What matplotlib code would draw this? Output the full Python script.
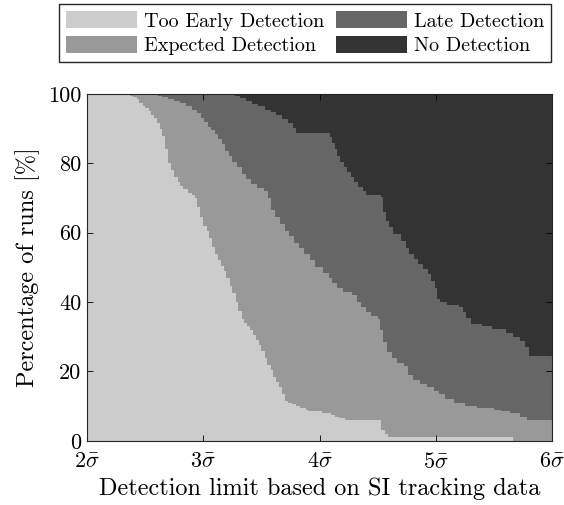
import matplotlib
matplotlib.use("Agg")
import matplotlib.pyplot as plt

# Share of runs [%] per outcome, stored as cumulative step curves:
# each value holds from its x until the next x (sigma-bar multiples).
early_x = [2.00, 2.37, 2.40, 2.43, 2.45, 2.48, 2.50, 2.53, 2.55, 2.58,
           2.60, 2.63, 2.65, 2.67, 2.70, 2.72, 2.75, 2.78, 2.80, 2.83,
           2.87, 2.90, 2.93, 2.95, 2.97, 3.00, 3.03, 3.05, 3.08, 3.10,
           3.13, 3.15, 3.18, 3.20, 3.23, 3.25, 3.28, 3.30, 3.33, 3.35,
           3.38, 3.40, 3.43, 3.45, 3.48, 3.50, 3.53, 3.55, 3.58, 3.60,
           3.63, 3.65, 3.68, 3.70, 3.73, 3.76, 3.80, 3.83, 3.88, 3.90,
           4.02, 4.10, 4.13, 4.17, 4.22, 4.53, 4.56, 4.59, 5.66, 6.00]
early_pct = [100, 99.5, 99, 98.5, 97.5, 96.5, 96, 95, 94, 93,
             91.5, 90, 88, 84, 80, 78, 76, 74.5, 73.5, 72.5,
             71.5, 71, 70, 67.5, 64.5, 62, 60.5, 58.5, 56, 54,
             52, 50.5, 49, 47, 44.5, 42.5, 40, 37.5, 35, 34,
             33, 32, 30.5, 29, 27.5, 26, 24, 22, 20.5, 18.5,
             17, 15.5, 13.5, 11.5, 11, 10.5, 10, 9.5, 9, 8.5,
             8, 7.5, 7, 6.5, 6, 3, 2, 1.2, 0, 0]

expected_x = [2.00, 2.61, 2.65, 2.70, 2.75, 2.80, 2.85, 2.90, 2.95, 2.98,
              3.01, 3.04, 3.07, 3.10, 3.13, 3.16, 3.19, 3.22, 3.25, 3.29,
              3.33, 3.37, 3.41, 3.46, 3.52, 3.56, 3.58, 3.62, 3.66, 3.70,
              3.74, 3.78, 3.82, 3.87, 3.92, 3.96, 4.03, 4.08, 4.11, 4.15,
              4.20, 4.28, 4.32, 4.36, 4.40, 4.44, 4.50, 4.52, 4.55, 4.58,
              4.62, 4.67, 4.73, 4.76, 4.80, 4.86, 4.92, 4.98, 5.03, 5.08,
              5.16, 5.25, 5.35, 5.50, 5.56, 5.64, 5.72, 5.78, 6.00]
expected_pct = [100, 99.5, 99.2, 98.5, 98, 97.3, 96.5, 95.5, 94.5, 93,
                92, 90.6, 89.5, 88.5, 87, 85.5, 83.5, 82, 80.5, 79,
                77, 75.5, 74, 73, 72, 70, 66.5, 64.5, 62.5, 60.5,
                59, 57, 55.5, 54, 52, 50, 48.5, 47, 45.5, 44,
                43, 42, 40, 38.5, 37, 36, 35, 32, 28.5, 25.5,
                24, 22.5, 21.5, 19, 17.5, 16.5, 15.5, 14.5, 13.5, 12,
                11, 10, 9.5, 9, 8.5, 8, 7, 6.1, 6.1]

late_x = [2.00, 3.27, 3.32, 3.37, 3.42, 3.47, 3.53, 3.58, 3.63, 3.68,
          3.73, 3.77, 3.80, 4.09, 4.11, 4.13, 4.15, 4.18, 4.21, 4.24,
          4.27, 4.30, 4.33, 4.37, 4.40, 4.53, 4.55, 4.57, 4.60, 4.63,
          4.70, 4.74, 4.77, 4.81, 4.85, 4.89, 4.93, 4.96, 4.99, 5.01,
          5.04, 5.10, 5.20, 5.23, 5.26, 5.30, 5.40, 5.48, 5.60, 5.66,
          5.72, 5.77, 5.80, 6.00]
late_pct = [100, 99.5, 98.8, 98, 97.2, 96.5, 95.5, 94.7, 93.8, 92.8,
            91.5, 90.3, 88.7, 87.7, 86, 84, 82, 80.5, 79, 77.5,
            76, 74.5, 73.3, 72, 70.9, 70.4, 66, 63.5, 61.5, 59.5,
            57.5, 55.5, 54, 52.5, 51, 49.5, 48, 46, 44, 41,
            40, 39.2, 38.7, 37, 35.5, 33.8, 33, 32.3, 31.2, 30,
            28.8, 27, 24.5, 24]

labels = ["Too Early Detection", "Expected Detection", "Late Detection", "No Detection"]
colors = ["#cccccc", "#999999", "#666666", "#333333"]
xticks = [2, 3, 4, 5, 6]
xtick_labels = [r"$2\bar{\sigma}$", r"$3\bar{\sigma}$", r"$4\bar{\sigma}$",
                r"$5\bar{\sigma}$", r"$6\bar{\sigma}$"]
yticks = [0, 20, 40, 60, 80, 100]

plt.rcParams["font.family"] = "cmr10"
plt.rcParams["mathtext.fontset"] = "cm"
plt.rcParams["axes.unicode_minus"] = False

fig = plt.figure(figsize=(5.64, 5.05), dpi=100)
ax = fig.add_axes([0.154, 0.127, 0.825, 0.687])

# paint from the back: no detection fills everything, the others on top
h_none = ax.fill_between([2, 6], 0, 100, facecolor=colors[3],
                         edgecolor="none", label=labels[3])
h_late = ax.fill_between(late_x, 0, late_pct, step="post", facecolor=colors[2],
                         edgecolor="none", label=labels[2])
h_exp = ax.fill_between(expected_x, 0, expected_pct, step="post",
                        facecolor=colors[1], edgecolor="none", label=labels[1])
h_early = ax.fill_between(early_x, 0, early_pct, step="post",
                          facecolor=colors[0], edgecolor="none", label=labels[0])

ax.set_xlim(2, 6)
ax.set_ylim(0, 100)
ax.set_xticks(xticks)
ax.set_xticklabels(xtick_labels)
ax.set_yticks(yticks)
ax.tick_params(direction="in", top=True, right=True, labelsize=16, length=4,
               width=0.6)
ax.tick_params(axis="x", pad=8)
ax.tick_params(axis="y", pad=4)
for s in ax.spines.values():
    s.set_linewidth(0.8)
    s.set_color("#262626")

ax.set_xlabel("Detection limit based on SI tracking data", fontsize=17.5, labelpad=4)
ax.set_ylabel("Percentage of runs [%]", fontsize=17.5, labelpad=6)

fig.legend(handles=[h_early, h_exp, h_late, h_none], loc="upper center",
           bbox_to_anchor=(0.541, 0.992), ncol=2, fontsize=14.5, frameon=True,
           fancybox=False, edgecolor="#262626", framealpha=1,
           handlelength=3.5, handleheight=0.95, columnspacing=0.6,
           handletextpad=0.35, borderpad=0.35, labelspacing=0.25,
           borderaxespad=0)

fig.savefig("out.png", dpi=100)
